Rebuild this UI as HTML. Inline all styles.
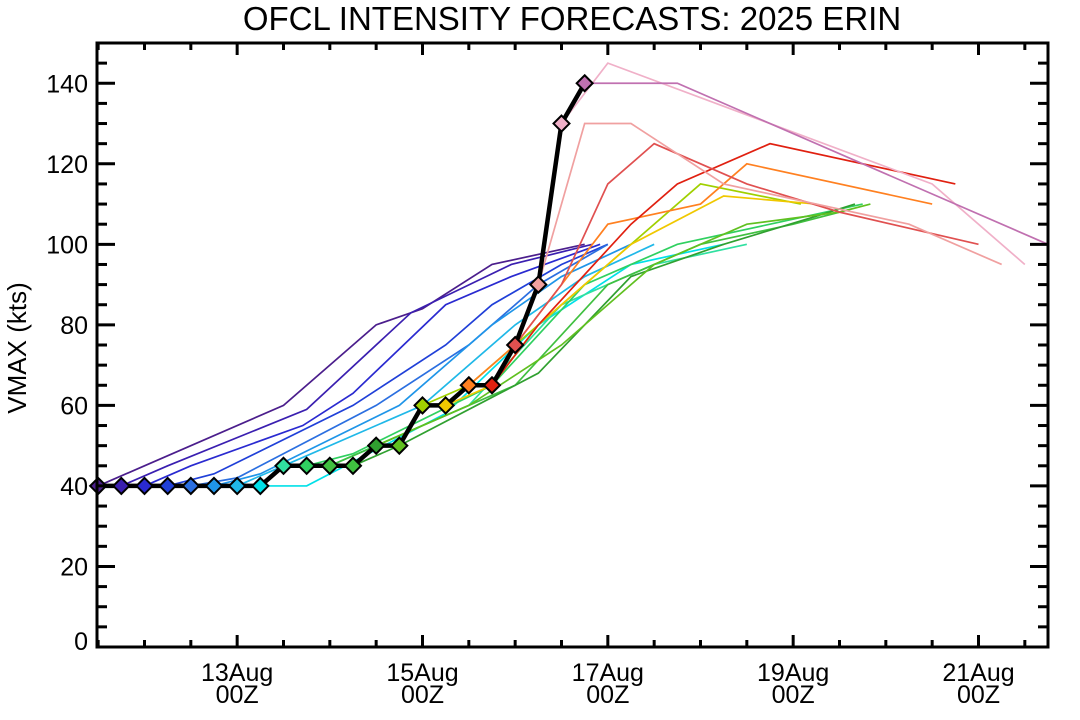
<!DOCTYPE html>
<html><head><meta charset="utf-8"><style>
html,body{margin:0;padding:0;background:#fff;}
svg{display:block;font-family:"Liberation Sans",sans-serif;}
</style></head><body>
<svg id="chart" width="1080" height="720" viewBox="0 0 1080 720" xmlns="http://www.w3.org/2000/svg">
<text x="572" y="30" font-size="33" text-anchor="middle">OFCL INTENSITY FORECASTS: 2025 ERIN</text>
<text transform="translate(26,348) rotate(-90)" font-size="26" text-anchor="middle">VMAX (kts)</text>
<g id="plot"></g>
<g id="axes"></g>
</svg>
<script>
// Hours are counted from 11 Aug 12Z
const trackHours = [0,6,12,18,24,30,36,42,48,54,60,66,72,78,84,90,96,102,108,114,120,126];
const trackVmax  = [40,40,40,40,40,40,40,40,45,45,45,45,50,50,60,60,65,65,75,90,130,140];
const forecastColors = ['#4b1e8c','#3a1fb0','#2a2ad0','#2040d8','#2b6fe0','#1f95e8','#20b8e8','#00e0e8','#30e0a0','#30d060','#40c040','#30a030','#60c020','#a0d000','#f0c800','#ff8020','#e02010','#e05050','#f0a0a0','#f0b0c8','#c070b0'];
const fcHours = [
 [0,12,48,72,84,102,126],
 [6,18,54,81,107,128],
 [12,24,53,66,90,107,130],
 [18,30,66,90,102,120,132],
 [24,36,72,96,114,132],
 [30,42,78,102,120,138],
 [36,48,84,108,126,144],
 [42,54,90,114,138,162],
 [48,60,72,96,120,144,168],
 [54,66,102,126,150,174,198],
 [60,72,108,132,156,180,192],
 [66,78,114,138,162,186,196],
 [72,84,96,120,144,168,192,200],
 [84,96,108,132,156,182],
 [90,102,114,138,162,186],
 [96,108,120,132,156,168,216],
 [102,114,138,150,174,222],
 [108,120,132,144,168,192,228],
 [114,126,138,162,210,234],
 [120,132,216,240],
 [126,150,246]
];
const fcVmax = [
 [40,45,60,80,84,95,100],
 [40,45,59,83,95,100],
 [40,45,55,63,85,92,100],
 [40,43,60,75,85,95,100],
 [40,42,60,75,90,100],
 [40,43,60,80,92,100],
 [40,45,60,80,92,100],
 [40,40,58,80,95,100],
 [45,45,50,60,85,95,100],
 [45,48,65,90,100,105,110],
 [45,50,65,90,100,105,108],
 [45,50,68,92,100,107,110],
 [50,55,60,75,95,105,108,110],
 [60,65,75,95,115,110],
 [60,65,80,100,112,110],
 [65,75,90,105,110,120,110],
 [65,80,105,115,125,115],
 [75,90,115,125,115,108,100],
 [90,130,130,115,105,95],
 [130,145,115,95],
 [140,140,100]
];
const yTicks = [0,20,40,60,80,100,120,140];
const xMajorHours = [36,84,132,180,228];
const xLabels1 = ['13Aug','15Aug','17Aug','19Aug','21Aug'];
const xLabels2 = ['00Z','00Z','00Z','00Z','00Z'];

const L=97,R=1048,T=43,B=647;
const H0=-0.3,H1=246,V0=0,V1=150;
const X=h=>L+(h-H0)/(H1-H0)*(R-L);
const Y=v=>B-(v-V0)/(V1-V0)*(B-T);
const NS='http://www.w3.org/2000/svg';
const plot=document.getElementById('plot'), axes=document.getElementById('axes');
function mk(tag,parent){const e=document.createElementNS(NS,tag);parent.appendChild(e);return e;}

fcHours.forEach((hs,i)=>{
  const p=mk('polyline',plot);
  
  
  p.setAttribute('points',hs.map((h,j)=>X(h)+','+Y(fcVmax[i][j])).join(' '));
  p.setAttribute('fill','none');p.setAttribute('stroke',forecastColors[i]);p.setAttribute('stroke-width','1.7');
});
const bt=mk('polyline',plot);


bt.setAttribute('points',trackHours.map((h,j)=>X(h)+','+Y(trackVmax[j])).join(' '));
bt.setAttribute('fill','none');bt.setAttribute('stroke','#000');bt.setAttribute('stroke-width','4.5');bt.setAttribute('stroke-linejoin','round');
trackHours.forEach((h,j)=>{
  const x=X(h),y=Y(trackVmax[j]),s=8;
  const d=mk('polygon',plot);
  
  
  d.setAttribute('points',`${x},${y-s} ${x+s},${y} ${x},${y+s} ${x-s},${y}`);
  d.setAttribute('fill',forecastColors[Math.min(forecastColors.length-1,Math.round(j*(forecastColors.length-1)/(trackHours.length-1)))]);
  d.setAttribute('stroke','#000');d.setAttribute('stroke-width','2');
});
const fr=mk('rect',axes);


fr.setAttribute('x',L);fr.setAttribute('y',T);fr.setAttribute('width',R-L);fr.setAttribute('height',B-T);
fr.setAttribute('fill','none');fr.setAttribute('stroke','#000');fr.setAttribute('stroke-width','3');
function line(x1,y1,x2,y2){const l=mk('line',axes);l.setAttribute('x1',x1);l.setAttribute('y1',y1);l.setAttribute('x2',x2);l.setAttribute('y2',y2);l.setAttribute('stroke','#000');l.setAttribute('stroke-width','3');}
for(let v=5;v<150;v+=5){const major=v%20===0;const len=major?18:10;line(L,Y(v),L+len,Y(v));line(R,Y(v),R-len,Y(v));}
for(let h=0;h<=246;h+=12){const major=xMajorHours.includes(h);const len=major?12:7;line(X(h),B,X(h),B-len);line(X(h),T,X(h),T+len);}
yTicks.forEach(v=>{const t=mk('text',axes);t.setAttribute('x',L-9);t.setAttribute('y',Y(v)+9-(v===0?6:0));t.setAttribute('font-size','25');t.setAttribute('text-anchor','end');t.textContent=v;});
xMajorHours.forEach((h,i)=>{
  const t=mk('text',axes);t.setAttribute('x',X(h));t.setAttribute('y',681);t.setAttribute('font-size','25');t.setAttribute('text-anchor','middle');t.textContent=xLabels1[i];
  const u=mk('text',axes);u.setAttribute('x',X(h));u.setAttribute('y',703);u.setAttribute('font-size','25');u.setAttribute('text-anchor','middle');u.textContent=xLabels2[i];
});
</script>
</body></html>
